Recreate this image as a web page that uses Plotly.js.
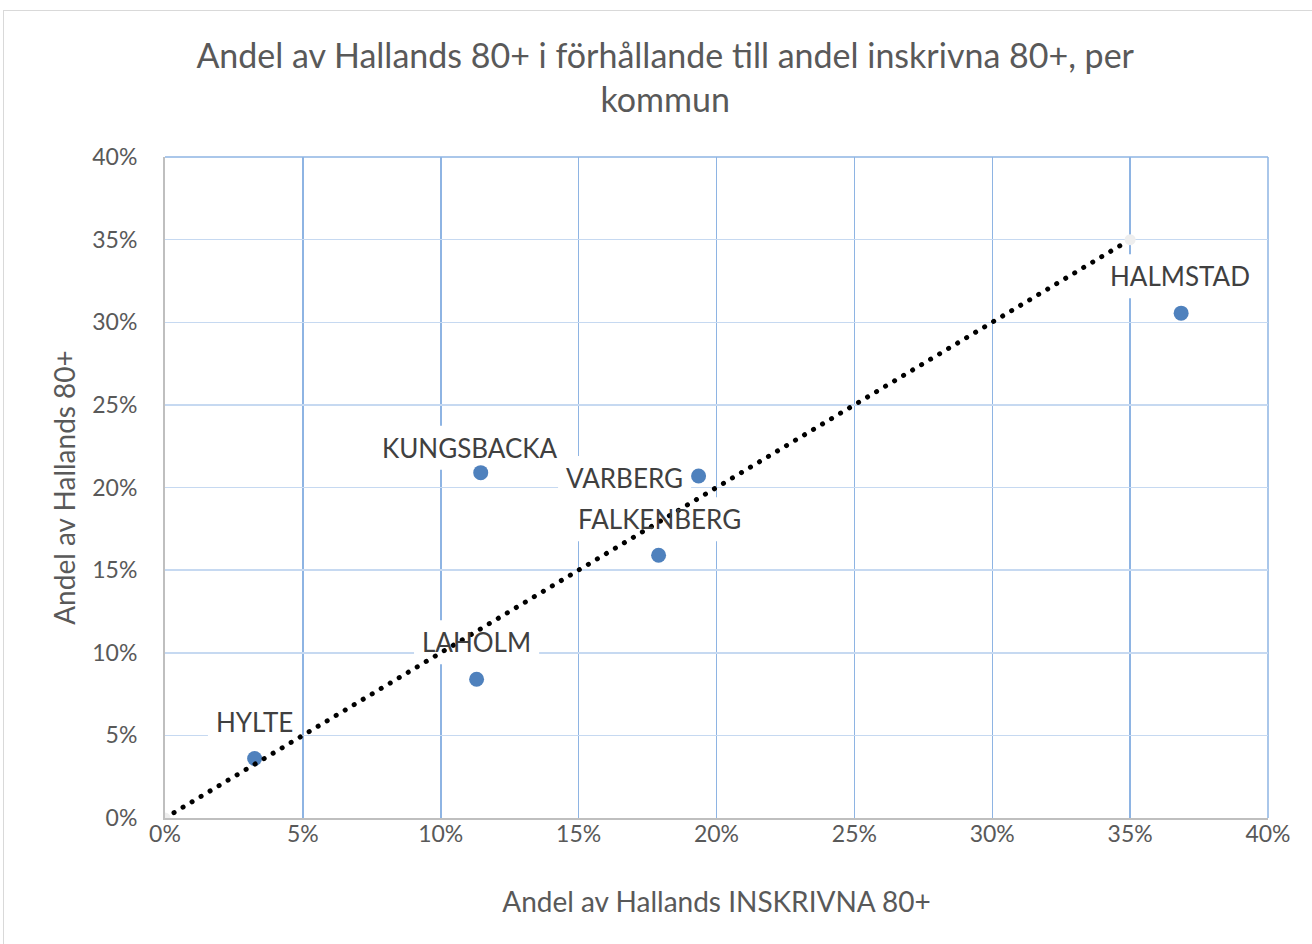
<!DOCTYPE html>
<html>
<head>
<meta charset="utf-8">
<script src="https://cdn.plot.ly/plotly-3.0.1.min.js"></script>
<style>
  html, body { margin: 0; padding: 0; background: #fff; }
  #wrap { position: relative; width: 1312px; height: 944px; }
  #frame { position: absolute; left: 3px; top: 10px; width: 1320px; height: 940px; border: 1px solid #d9d9d9; box-sizing: border-box; pointer-events: none; }
  #chart { position: absolute; left: 0; top: 0; width: 1312px; height: 944px; }
</style>
</head>
<body>
<div id="wrap">
  <div id="chart"></div>
  <div id="frame"></div>
</div>
<script>
// Data (percent)
const kommuner = ["HYLTE", "LAHOLM", "KUNGSBACKA", "VARBERG", "FALKENBERG", "HALMSTAD"];
const andelInskrivna = [3.25, 11.3, 11.45, 19.35, 17.9, 36.85];
const andelHallands = [3.6, 8.4, 20.9, 20.7, 15.9, 30.55];
const refX = [0, 35];
const refY = [0, 35];
const tickVals = [0, 5, 10, 15, 20, 25, 30, 35, 40];
const tickLabels = ["0%", "5%", "10%", "15%", "20%", "25%", "30%", "35%", "40%"];

// label placement offsets (px), not data
const labelShift = {
  "HYLTE": [0, 37], "LAHOLM": [0, 37], "KUNGSBACKA": [-11, 25],
  "VARBERG": [-74, -2], "FALKENBERG": [1, 36], "HALMSTAD": [-1, 37]
};

const font = "Lato, 'Open Sans', sans-serif";
const gray = "#595959";
const labelSize = 26;

// measure label widths for the white label boxes
const ctx = document.createElement("canvas").getContext("2d");
ctx.font = labelSize + "px Lato";
const padX = 8, boxH = 44;

const traces = [
  {
    x: andelInskrivna, y: andelHallands, type: "scatter", mode: "markers",
    marker: { color: "#4f81bd", size: 15 },
    text: kommuner, showlegend: false
  },
  {
    x: refX, y: refY, type: "scatter", mode: "lines+markers",
    line: { color: "#000000", width: 5, dash: "5px,5.4px" },
    marker: { color: "#eeeeee", size: 11 },
    hoverinfo: "skip", showlegend: false
  }
];

const annotations = kommuner.map((k, i) => ({
  x: andelInskrivna[i], y: andelHallands[i], xref: "x", yref: "y",
  text: k, showarrow: false,
  xshift: labelShift[k][0], yshift: labelShift[k][1],
  font: { family: font, size: labelSize, color: "#404040" }
}));

const boxes = kommuner.map((k, i) => {
  const w = ctx.measureText(k).width + 2 * padX;
  const [sx, sy] = labelShift[k];
  return {
    type: "rect", xref: "x", yref: "y", layer: "between",
    xsizemode: "pixel", ysizemode: "pixel",
    xanchor: andelInskrivna[i], yanchor: andelHallands[i],
    x0: sx - w / 2, x1: sx + w / 2, y0: sy - boxH / 2, y1: sy + boxH / 2,
    fillcolor: "#ffffff", line: { width: 0 }
  };
});

const axisCommon = {
  range: [0, 40], tickmode: "array", tickvals: tickVals, ticktext: tickLabels,
  showline: true, linecolor: "#bfbfbf", linewidth: 2,
  zeroline: false, mirror: false,
  tickfont: { family: font, size: 23, color: gray },
  fixedrange: true
};

const layout = {
  width: 1312, height: 944,
  margin: { l: 165, r: 44, t: 157, b: 126 },
  paper_bgcolor: "rgba(0,0,0,0)", plot_bgcolor: "#ffffff",
  font: { family: font, color: gray },
  title: {
    text: "Andel av Hallands 80+ i förhållande till andel inskrivna 80+, per<br>kommun",
    font: { family: font, size: 34, color: gray },
    x: 0.507, xref: "container", xanchor: "center",
    y: 0.928, yref: "container", yanchor: "top"
  },
  xaxis: Object.assign({}, axisCommon, {
    gridcolor: "#8eb4e3", gridwidth: 1.5, ticks: "", ticklabelstandoff: -6,
    title: { text: "Andel av Hallands INSKRIVNA 80+", font: { family: font, size: 28, color: gray }, standoff: 47 }
  }),
  yaxis: Object.assign({}, axisCommon, {
    gridcolor: "#c6d9f1", gridwidth: 1.5,
    ticks: "outside", tickcolor: "rgba(0,0,0,0)", ticklen: 21,
    title: { text: "Andel av Hallands 80+", font: { family: font, size: 28, color: gray }, standoff: 8 }
  }),
  shapes: [
    { type: "line", xref: "paper", yref: "paper", x0: 0, x1: 1, y0: 1, y1: 1, line: { color: "#8eb4e3", width: 1.5 }, layer: "below" },
    { type: "line", xref: "paper", yref: "paper", x0: 1, x1: 1, y0: 0, y1: 1, line: { color: "#8eb4e3", width: 1.5 }, layer: "below" }
  ].concat(boxes),
  annotations: annotations
};

Plotly.newPlot("chart", traces, layout, { displayModeBar: false, staticPlot: true }).then(() => {
  document.querySelectorAll(".scatterlayer .trace path.js-line").forEach(p => {
    p.style.strokeLinecap = "round";
    p.style.strokeDasharray = "0.1px,10.4px";
  });
});
</script>
</body>
</html>
